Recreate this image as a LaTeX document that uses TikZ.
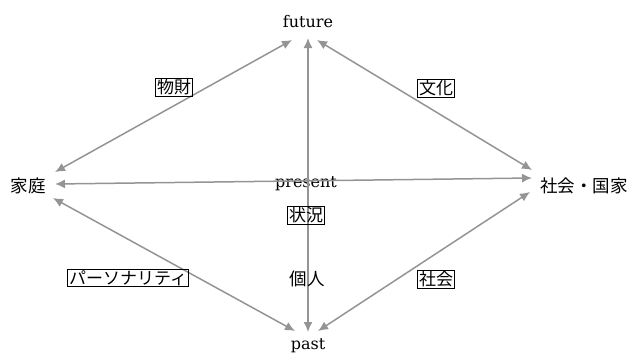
\documentclass[tikz,border=0pt]{standalone}
\usepackage{fontspec}
\newfontfamily\jfont{Noto Sans CJK JP}
\newfontfamily\lfont{DejaVu Serif}
\usetikzlibrary{arrows.meta}
\tikzset{
  lat/.style={font=\lfont\fontsize{16}{18}\selectfont, inner sep=0pt},
  jp/.style={font=\jfont\fontsize{17.5}{19}\selectfont, inner sep=0pt},
  jbox/.style={font=\jfont\fontsize{17}{19}\selectfont, draw=black, line width=0.7pt, inner sep=1.2pt},
  link/.style={draw=black!42, line width=1.5pt, {Latex[length=10pt,width=9pt]}-{Latex[length=10pt,width=9pt]}}
}
\begin{document}
\begin{tikzpicture}[x=1pt,y=-1pt]
\useasboundingbox (0,0) rectangle (636,356);
% text nodes
\node[lat] (future) at (308,22) {future};
\node[lat] (past) at (308,346) {past};
\node[jp] (katei) at (28,186) {家庭};
\node[jp] (shakai) at (584,186) {社会・国家};
\node[lat] (present) at (306,184) {present};
% arrow end points
\coordinate (fL) at (292,40);
\coordinate (fC) at (308,38);
\coordinate (fR) at (317,40);
\coordinate (pL) at (295,331);
\coordinate (pC) at (308,332);
\coordinate (pR) at (318,331);
\coordinate (kU) at (55,172);
\coordinate (kM) at (55,184);
\coordinate (kD) at (53,198);
\coordinate (sU) at (532,170);
\coordinate (sM) at (532,178);
\coordinate (sD) at (530,192);
% connectors
\draw[link] (fL) -- (kU);
\draw[link] (fR) -- (sU);
\draw[link] (fC) -- (pC);
\draw[link] (kM) -- (sM);
\draw[link] (kD) -- (pL);
\draw[link] (pR) -- (sD);
% labels
\node[jbox] (buzai) at (174,87) {物財};
\node[jbox] (bunka) at (436,88) {文化};
\node[jbox] (jokyo) at (306,215) {状況};
\node[jp] (kojin) at (307,279) {個人};
\node[jbox] (person) at (128,278) {パーソナリティ};
\node[jbox] (shakai2) at (436,279) {社会};
\end{tikzpicture}
\end{document}
